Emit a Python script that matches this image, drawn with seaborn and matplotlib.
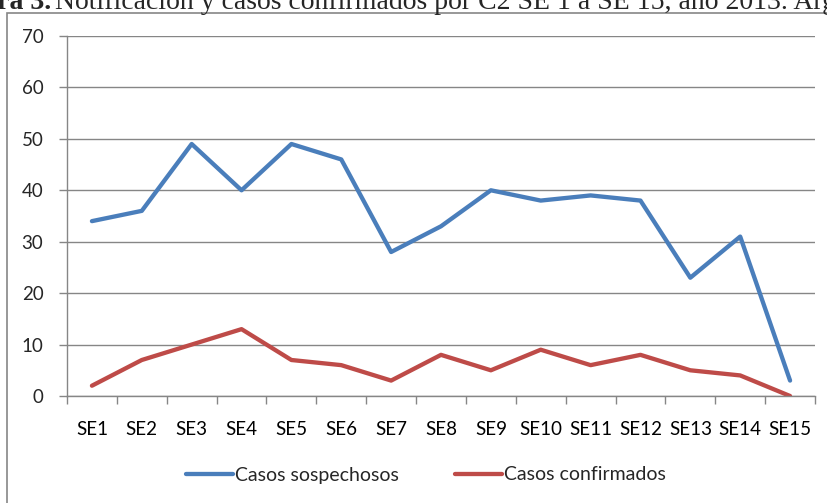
import pandas as pd
import seaborn as sns
import matplotlib.pyplot as plt
import matplotlib.patches as mpatches
from matplotlib.ticker import FixedLocator

WEEKS = ["SE1", "SE2", "SE3", "SE4", "SE5", "SE6", "SE7", "SE8", "SE9", "SE10",
         "SE11", "SE12", "SE13", "SE14", "SE15"]
SOSPECHOSOS = [34, 36, 49, 40, 49, 46, 28, 33, 40, 38, 39, 38, 23, 31, 3]
CONFIRMADOS = [2, 7, 10, 13, 7, 6, 3, 8, 5, 9, 6, 8, 5, 4, 0]
Y_TICKS = [0, 10, 20, 30, 40, 50, 60, 70]

BLUE = "#4a7ebb"
RED = "#be4b48"
GRID = "#868686"
W, H = 827, 503

sns.set_theme(style="white")
plt.rcParams["font.family"] = ["Lato", "DejaVu Sans"]

df = pd.DataFrame({
    "semana": WEEKS * 2,
    "idx": list(range(len(WEEKS))) * 2,
    "casos": SOSPECHOSOS + CONFIRMADOS,
    "serie": ["Casos sospechosos"] * len(WEEKS) + ["Casos confirmados"] * len(WEEKS),
})

fig = plt.figure(figsize=(W / 100, H / 100), dpi=100, facecolor="white")
ax = fig.add_axes([67 / W, 1 - 396 / H, (815 - 67) / W, (396 - 36) / H])

sns.lineplot(data=df, x="idx", y="casos", hue="serie",
             palette={"Casos sospechosos": BLUE, "Casos confirmados": RED},
             linewidth=3.1, ax=ax, legend=False, solid_capstyle="round")

ax.set_xlim(-0.5, len(WEEKS) - 0.5)
ax.set_ylim(0, 70)
ax.set_yticks(Y_TICKS)
ax.set_xticks(range(len(WEEKS)))
ax.set_xticklabels(WEEKS)
ax.xaxis.set_minor_locator(FixedLocator([i - 0.5 for i in range(len(WEEKS) + 1)]))
ax.tick_params(axis="x", which="major", length=0, pad=18, labelsize=13.5, colors="black")
ax.tick_params(axis="x", which="minor", length=6, width=1, color=GRID, direction="out", bottom=True)
ax.tick_params(axis="y", length=6, width=1, color=GRID, pad=11, labelsize=13.5, left=True)
ax.set_xlabel("")
ax.set_ylabel("")

ax.grid(axis="y", color=GRID, linewidth=1)
ax.set_axisbelow(True)
for side in ["top", "right"]:
    ax.spines[side].set_visible(False)
for side in ["left", "bottom"]:
    ax.spines[side].set_color(GRID)
    ax.spines[side].set_linewidth(1)

handles = [plt.Line2D([], [], color=BLUE, linewidth=3.1),
           plt.Line2D([], [], color=RED, linewidth=3.1)]
fig.legend(handles, ["Casos sospechosos", "Casos confirmados"], loc="center",
           bbox_to_anchor=(426 / W, 1 - 475 / H), ncol=2, frameon=False,
           fontsize=14, handlelength=2.4, handletextpad=0.1, columnspacing=2.9)

# chart area border (cut off at the right and bottom)
fig.patches.append(mpatches.Rectangle((7 / W, -0.1), 1.2, 1.1 - 13 / H,
                                      transform=fig.transFigure, fill=False,
                                      edgecolor=GRID, linewidth=1.2))

# caption cropped at top of the picture
fig.text(51 / W, 1 - 9 / H, "Figura 3.", ha="right", va="baseline",
         fontsize=20, fontweight="bold", family="Liberation Serif")
fig.text(55 / W, 1 - 9 / H,
         "Notificación y casos confirmados por C2 SE 1 a SE 15, año 2013. Argentina",
         ha="left", va="baseline", fontsize=20, family="Liberation Serif")

fig.savefig("out.png", dpi=100, facecolor="white")
